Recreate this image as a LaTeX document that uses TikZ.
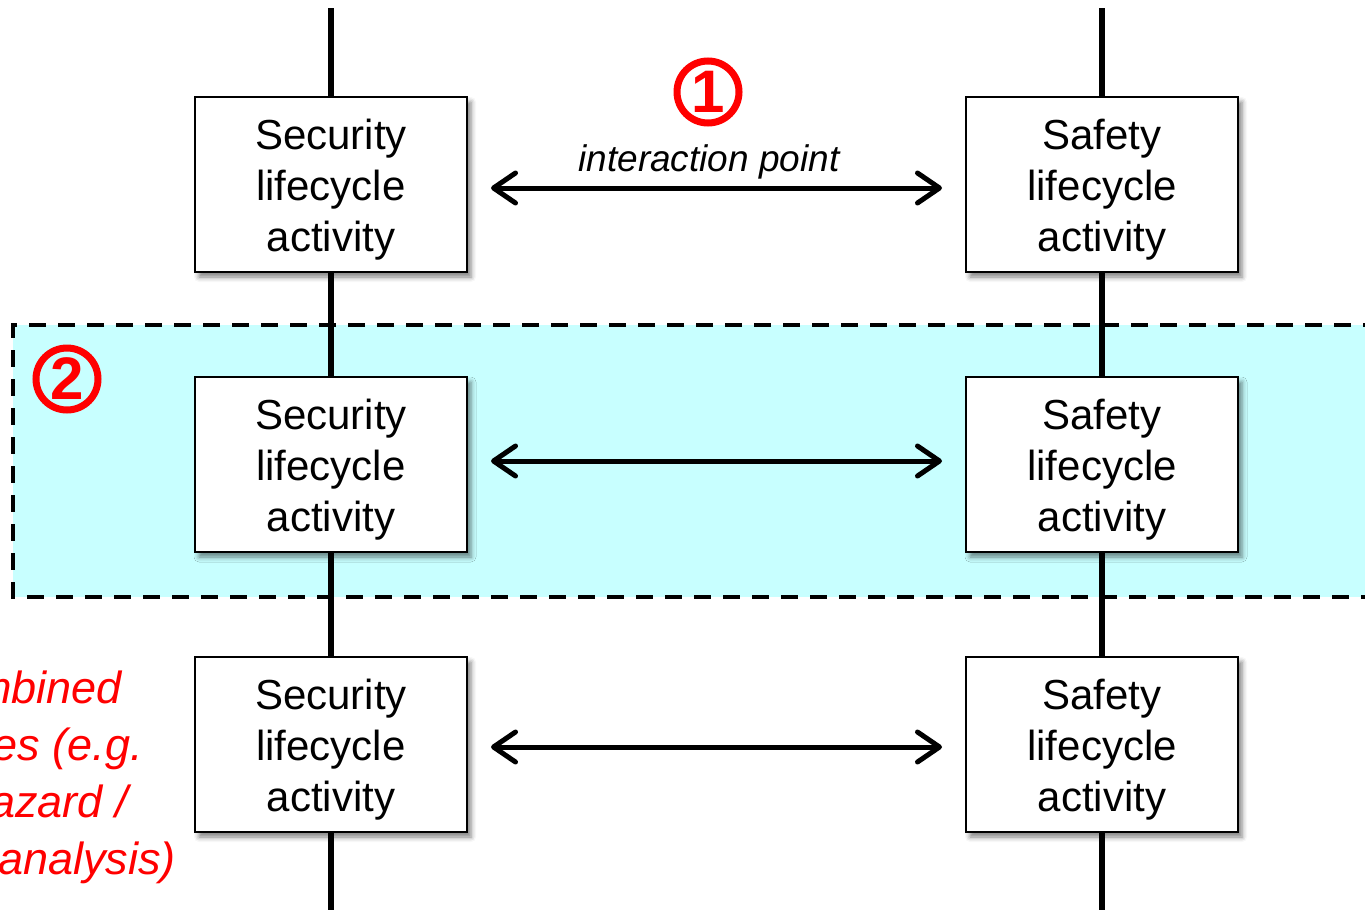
\documentclass[tikz,border=0pt]{standalone}
\usepackage{fontspec}
\setmainfont{Liberation Sans}
\usetikzlibrary{arrows.meta,shadows.blur}
\definecolor{bandcyan}{HTML}{C8FFFF}
% three-line label, lowered inside its own box so the node keeps its centring
\newcommand{\actlabel}[1]{\raisebox{-6pt}[\height][\depth]{\begin{tabular}{@{}c@{}}#1\end{tabular}}}
\begin{document}
\begin{tikzpicture}[x=1pt,y=-1pt,
  activity/.style={draw=black, line width=2pt, fill=white,
    minimum width=272pt, minimum height=175pt, inner sep=0pt,
    font=\fontsize{42}{51}\selectfont,
    blur shadow={shadow xshift=4pt, shadow yshift=-5pt,
      shadow blur radius=5pt, shadow opacity=50}},
  lifeline/.style={line width=6pt},
  link/.style={line width=5pt, {Straight Barb[length=22pt,width=30pt,line cap=round,line join=round]}-{Straight Barb[length=22pt,width=30pt,line cap=round,line join=round]}},
  marker/.style={circle, draw=red, line width=7pt, text=red, minimum size=62pt,
    inner sep=0pt, font=\fontsize{60}{60}\selectfont\bfseries},
  note/.style={text=red, font=\fontsize{45}{57}\selectfont\itshape, inner sep=0pt},
]
\useasboundingbox (0,0) rectangle (1365,910);
\clip (0,0) rectangle (1365,910);

% shaded band grouping the middle pair
\fill[bandcyan] (13,325) rectangle (1380,597);

% lifelines
\coordinate (secTop) at (331,8);
\coordinate (secBot) at (331,915);
\coordinate (safTop) at (1102,8);
\coordinate (safBot) at (1102,915);
\draw[lifeline] (secTop) -- (secBot);
\draw[lifeline] (safTop) -- (safBot);

% band outline
\draw[line width=4pt, dash pattern=on 17pt off 12pt] (1380,325) -- (13,325) -- (13,597) -- (1380,597);

% activity boxes
\node[activity] (sec1) at (331,184.5) {\actlabel{Security\\lifecycle\\activity}};
\node[activity] (saf1) at (1102,184.5) {\actlabel{Safety\\lifecycle\\activity}};
\node[activity] (sec2) at (331,464.5) {\actlabel{Security\\lifecycle\\activity}};
\node[activity] (saf2) at (1102,464.5) {\actlabel{Safety\\lifecycle\\activity}};
\node[activity] (sec3) at (331,744.5) {\actlabel{Security\\lifecycle\\activity}};
\node[activity] (saf3) at (1102,744.5) {\actlabel{Safety\\lifecycle\\activity}};

% interactions
\draw[link] ([xshift=23pt,yshift=-3.5pt]sec1.east) -- ([xshift=-23pt,yshift=-3.5pt]saf1.west);
\draw[link] ([xshift=23pt,yshift=3.5pt]sec2.east) -- ([xshift=-23pt,yshift=3.5pt]saf2.west);
\draw[link] ([xshift=23pt,yshift=-2.5pt]sec3.east) -- ([xshift=-23pt,yshift=-2.5pt]saf3.west);

\node[font=\fontsize{37}{40}\selectfont\itshape, inner sep=0pt] (ip) at (709,162) {interaction point};

% numbered markers
\node[marker] (m1) at (708,92) {1};
\node[marker] (m2) at (67,379) {2};

% combined-activities note
\node[note, anchor=base east] (n1) at (122,703) {Combined};
\node[note, anchor=base east] (n2) at (143,760) {activities (e.g.};
\node[note, anchor=base east] (n3) at (128,817) {hazard /};
\node[note, anchor=base east] (n4) at (176,874) {analysis)};
\end{tikzpicture}
\end{document}
